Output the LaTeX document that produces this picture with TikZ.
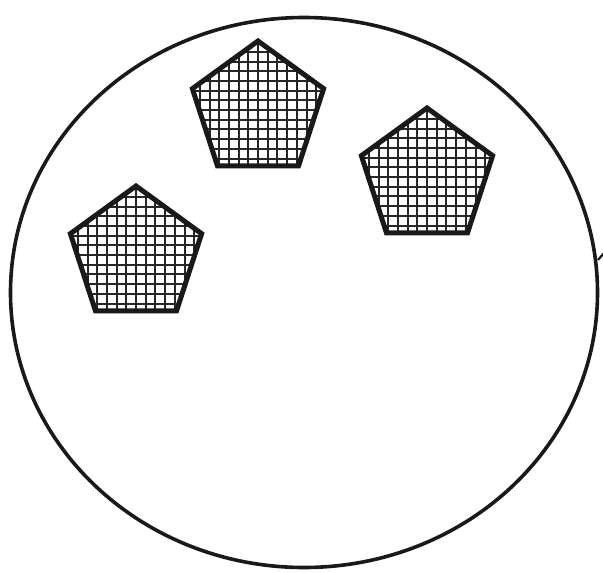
\documentclass[tikz,border=0pt]{standalone}
\usetikzlibrary{shapes.geometric}
\begin{document}
\begin{tikzpicture}[x=1pt,y=-1pt,
  pentbox/.style={regular polygon, regular polygon sides=5, minimum size=138pt,
    inner sep=0pt, outer sep=0pt, draw=black!90, line width=5pt, line join=miter,
    path picture={\draw[black!85, line width=2pt, xstep=9.7pt, ystep=9.7pt]
      ([xshift=-3pt,yshift=-3pt]path picture bounding box.south west) grid
      ([xshift=3pt,yshift=3pt]path picture bounding box.north east);}},
  rim/.style={draw=black!90, line width=3.6pt}]
\useasboundingbox (0,0) rectangle (603,573);
\draw[rim] (304,292.5) ellipse [x radius=293.5pt, y radius=275pt];
\coordinate (t1) at (598,260);
\coordinate (t2) at (604,253);
\draw[black!90, line width=2.2pt] (t1) -- (t2);
\node[pentbox] (p1) at (258,110) {};
\node[pentbox] (p2) at (427,177) {};
\node[pentbox] (p3) at (136,255) {};
\end{tikzpicture}
\end{document}
